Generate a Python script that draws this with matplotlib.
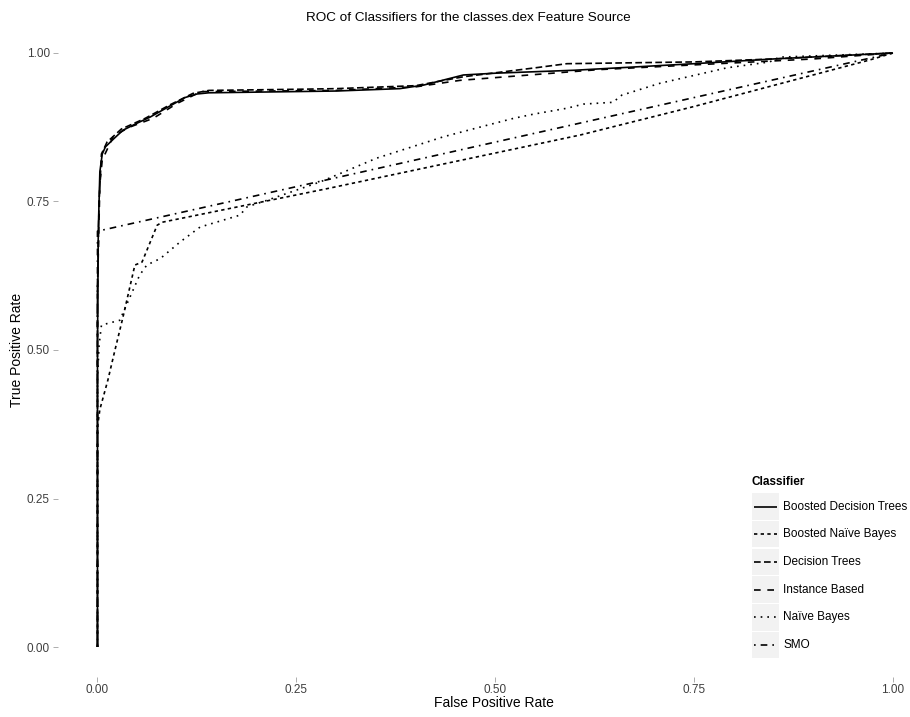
import matplotlib
matplotlib.use("Agg")
import matplotlib.pyplot as plt
from matplotlib.patches import Rectangle
from matplotlib.lines import Line2D

plt.rcParams["font.family"] = ["Liberation Sans", "DejaVu Sans"]

# ROC curves (false positive rate, true positive rate) per classifier
classifiers = ["Boosted Decision Trees", "Boosted Naïve Bayes", "Decision Trees",
               "Instance Based", "Naïve Bayes", "SMO"]

bdt_fpr = [0, 0, 0.001, 0.003, 0.006, 0.010, 0.020, 0.032, 0.050, 0.066, 0.090, 0.110,
           0.125, 0.140, 0.300, 0.380, 0.410, 0.460, 0.500, 0.600, 0.750, 0.850, 1.0]
bdt_tpr = [0, 0.50, 0.70, 0.80, 0.83, 0.842, 0.855, 0.870, 0.882, 0.892, 0.910, 0.925,
           0.931, 0.933, 0.936, 0.940, 0.946, 0.963, 0.966, 0.971, 0.982, 0.990, 1.0]

bnb_fpr = [0, 0, 0.003, 0.013, 0.022, 0.032, 0.047, 0.056, 0.075, 0.081, 0.290, 0.607,
           0.750, 0.970, 1.0]
bnb_tpr = [0, 0.37, 0.40, 0.449, 0.50, 0.555, 0.643, 0.648, 0.710, 0.715, 0.772, 0.862,
           0.910, 0.988, 1.0]

dt_fpr = [0, 0, 0.002, 0.005, 0.012, 0.030, 0.060, 0.090, 0.120, 0.140, 0.255, 0.300,
          0.400, 0.460, 0.550, 0.590, 0.750, 0.850, 1.0]
dt_tpr = [0, 0.60, 0.75, 0.83, 0.85, 0.872, 0.890, 0.912, 0.932, 0.937, 0.939, 0.940,
          0.945, 0.960, 0.975, 0.982, 0.985, 0.990, 1.0]

ib_fpr = [0, 0, 0.003, 0.006, 0.020, 0.040, 0.070, 0.100, 0.130, 0.300, 0.400, 0.456,
          0.630, 0.750, 0.900, 1.0]
ib_tpr = [0, 0.60, 0.78, 0.82, 0.860, 0.875, 0.890, 0.915, 0.935, 0.937, 0.943, 0.954,
          0.972, 0.980, 0.990, 1.0]

nb_fpr = [0, 0, 0.002, 0.005, 0.028, 0.053, 0.062, 0.079, 0.104, 0.129, 0.179, 0.188,
          0.213, 0.280, 0.351, 0.435, 0.483, 0.523, 0.548, 0.590, 0.611, 0.648, 0.659,
          0.707, 0.791, 0.845, 0.857, 1.0]
nb_tpr = [0, 0.45, 0.508, 0.542, 0.550, 0.626, 0.643, 0.654, 0.682, 0.707, 0.727, 0.741,
          0.752, 0.783, 0.823, 0.859, 0.876, 0.890, 0.897, 0.907, 0.914, 0.917, 0.929,
          0.949, 0.975, 0.985, 0.993, 1.0]

smo_fpr = [0, 0, 1.0]
smo_tpr = [0, 0.70, 1.0]

curves = [(bdt_fpr, bdt_tpr), (bnb_fpr, bnb_tpr), (dt_fpr, dt_tpr),
          (ib_fpr, ib_tpr), (nb_fpr, nb_tpr), (smo_fpr, smo_tpr)]

# ggplot-style linetype sequence: solid, 22, 42, 44, 13, 1343
dash_styles = [None, (2, 2), (4, 2), (4, 4), (1, 3), (1, 3, 4, 3)]

tick_vals = [0.0, 0.25, 0.50, 0.75, 1.00]
tick_labels = ["0.00", "0.25", "0.50", "0.75", "1.00"]

W, H = 910, 717
fig = plt.figure(figsize=(W / 100, H / 100), dpi=100)

def fx(px):
    return px / W

def fy(py):
    return 1 - py / H

# panel spans x -0.05..1.05 and y -0.05..1.05
left_px, right_px = 57.7, 932.8
top_px, bottom_px = 23.3, 676.7
ax = fig.add_axes([fx(left_px), fy(bottom_px), fx(right_px - left_px), (bottom_px - top_px) / H])
ax.set_xlim(-0.05, 1.05)
ax.set_ylim(-0.05, 1.05)
for s in ax.spines.values():
    s.set_visible(False)
ax.set_facecolor("white")

LW = 1.2
for (x, y), d in zip(curves, dash_styles):
    line, = ax.plot(x, y, color="black", lw=LW, solid_capstyle="butt", clip_on=False)
    if d is not None:
        line.set_dashes(d)

ax.set_xticks(tick_vals)
ax.set_xticklabels(tick_labels)
ax.set_yticks(tick_vals)
ax.set_yticklabels(tick_labels)
ax.tick_params(axis="both", length=3.6, width=0.6, color="#A0A0A0",
               labelcolor="#3F3F3F", labelsize=8.5)
ax.tick_params(axis="x", pad=2.0)
ax.tick_params(axis="y", pad=2.0)

fig.text(fx(494), fy(703), "False Positive Rate", ha="center", va="center", fontsize=10)
fig.text(fx(17), fy(350), "True Positive Rate", ha="center", va="center",
         rotation=90, fontsize=10)
fig.text(fx(468), fy(18), "ROC of Classifiers for the classes.dex Feature Source",
         ha="center", va="center", fontsize=9.7)

# legend with grey key backgrounds
fig.text(fx(752), fy(482), "Classifier", ha="left", va="center",
         fontsize=8.5, fontweight="bold")
key_w, key_h, step = 26.5, 26.5, 27.7
first_center = 506.5
for i, (name, d) in enumerate(zip(classifiers, dash_styles)):
    cy = first_center + i * step
    fig.add_artist(Rectangle((fx(752), fy(cy + key_h / 2)), key_w / W, key_h / H,
                             transform=fig.transFigure, facecolor="#F2F2F2",
                             edgecolor="none"))
    seg = Line2D([fx(754), fx(777)], [fy(cy), fy(cy)], transform=fig.transFigure,
                 color="black", lw=LW, solid_capstyle="butt")
    if d is not None:
        seg.set_dashes(d)
    fig.add_artist(seg)
    fig.text(fx(783), fy(cy), name, ha="left", va="center", fontsize=8.5)

fig.savefig("out.png", dpi=100)
